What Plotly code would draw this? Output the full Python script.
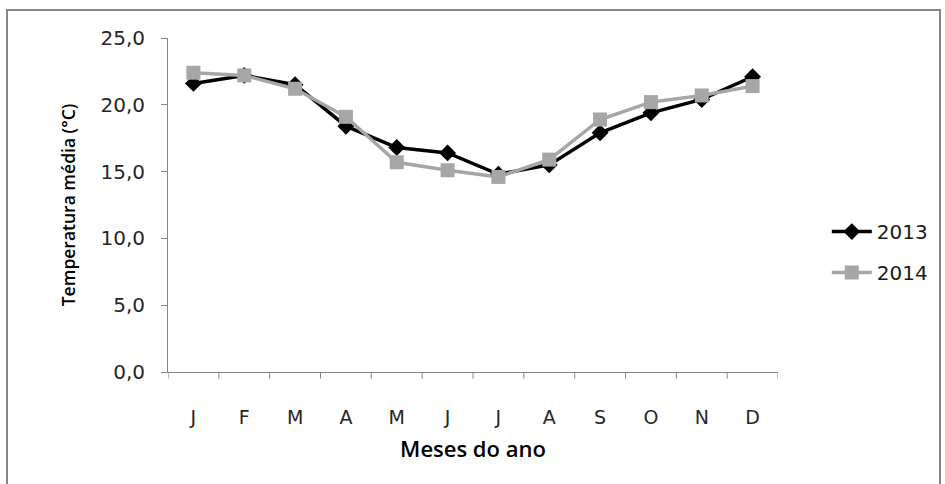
import plotly.graph_objects as go

# Monthly mean temperature (°C)
months = ["J", "F", "M", "A", "M", "J", "J", "A", "S", "O", "N", "D"]
temp_2013 = [21.6, 22.2, 21.5, 18.4, 16.8, 16.4, 14.8, 15.5, 17.9, 19.4, 20.4, 22.1]
temp_2014 = [22.4, 22.2, 21.2, 19.1, 15.7, 15.1, 14.6, 15.9, 18.9, 20.2, 20.7, 21.4]
y_ticks = [0, 5, 10, 15, 20, 25]

x_pos = list(range(len(months)))

fig = go.Figure()
fig.add_trace(go.Scatter(
    x=x_pos, y=temp_2013, name="2013", mode="lines+markers", legendgroup="a",
    line=dict(color="#000000", width=3.5),
    marker=dict(symbol="diamond", size=13, color="#000000"),
))
fig.add_trace(go.Scatter(
    x=x_pos, y=temp_2014, name="2014", mode="lines+markers", legendgroup="b",
    line=dict(color="#A6A6A6", width=3.5),
    marker=dict(symbol="square", size=14, color="#A6A6A6"),
))

tick_font = dict(family="DejaVu Sans, sans-serif", size=19, color="#262626")
title_font = dict(family="Open Sans, sans-serif", size=17.5, color="#000000", weight=600)

fig.update_layout(
    width=945, height=484,
    margin=dict(l=168, r=167, t=38, b=112),
    paper_bgcolor="white", plot_bgcolor="white",
    separators=",.",
    showlegend=True,
    legend=dict(
        x=1.08, y=0.359, xanchor="left", yanchor="middle",
        font=dict(family="DejaVu Sans, sans-serif", size=20, color="#1a1a1a"),
        itemwidth=40, tracegroupgap=12,
    ),
    xaxis=dict(
        range=[-0.5, 11.5],
        tickmode="array", tickvals=x_pos, ticktext=months,
        showline=True, linecolor="#868686", linewidth=1,
        showgrid=False, zeroline=False,
        ticks="", tickfont=tick_font, ticklabelstandoff=28,
        title=dict(text="Meses do ano", standoff=14,
                   font=dict(family="Open Sans, sans-serif", size=22, color="#000000", weight=600)),
    ),
    yaxis=dict(
        range=[0, 25], tickvals=y_ticks, tickformat=".1f",
        showline=True, linecolor="#868686", linewidth=1,
        ticks="outside", ticklen=6, tickcolor="#868686",
        showgrid=False, zeroline=False,
        tickfont=dict(family="DejaVu Sans, sans-serif", size=20, color="#262626"),
        ticklabelstandoff=12,
        title=dict(text="Temperatura média (°C)", standoff=20, font=title_font),
    ),
)

# Category boundary ticks on the x axis
boundary_shapes = []
for b in [i - 0.5 for i in range(len(months) + 1)]:
    boundary_shapes.append(dict(
        type="line", xref="x", yref="paper", x0=b, x1=b, y0=0, y1=-0.02,
        line=dict(color="#868686", width=1),
    ))

# Outer chart frame
frame = dict(
    type="rect", xref="paper", yref="paper",
    x0=(7 - 168) / 610, x1=(940 - 168) / 610,
    y0=(372 - 495) / 334, y1=(372 - 10) / 334,
    line=dict(color="#868686", width=2), fillcolor="rgba(0,0,0,0)", layer="below",
)
fig.update_layout(shapes=boundary_shapes + [frame])

fig.write_html("out.html")
